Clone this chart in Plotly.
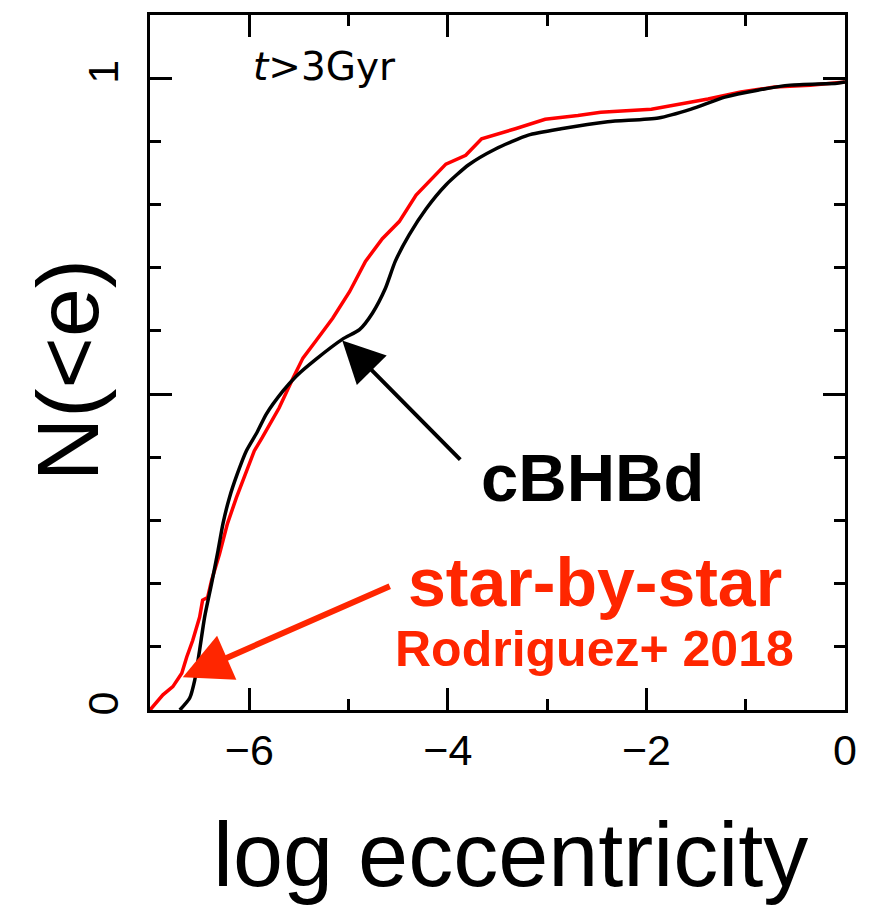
import plotly.graph_objects as go

# Cumulative eccentricity distributions, t > 3 Gyr
cbhbd_log_e = [-6.70, -6.60, -6.55, -6.50, -6.45, -6.38, -6.315, -6.265, -6.20, -6.12,
               -6.03, -5.92, -5.83, -5.66, -5.53, -5.33, -5.06, -4.89, -4.76, -4.63,
               -4.53, -4.39, -4.22, -4.02, -3.79, -3.52, -3.19, -2.86, -2.39, -1.88,
               -1.55, -1.21, -0.88, -0.55, -0.08, 0.0]
cbhbd_frac = [0.0, 0.019, 0.047, 0.095, 0.147, 0.20, 0.252, 0.295, 0.336, 0.374,
              0.41, 0.44, 0.468, 0.505, 0.528, 0.555, 0.587, 0.602, 0.628, 0.667,
              0.71, 0.752, 0.793, 0.831, 0.863, 0.888, 0.910, 0.920, 0.931, 0.937,
              0.951, 0.970, 0.981, 0.989, 0.992, 0.994]

sbs_log_e = [-7.0, -6.87, -6.77, -6.68, -6.63, -6.57, -6.50, -6.47, -6.42, -6.38,
             -6.30, -6.22, -6.13, -6.03, -5.95, -5.87, -5.70, -5.56, -5.46, -5.33,
             -5.16, -4.99, -4.83, -4.66, -4.49, -4.32, -4.18, -4.02, -3.82, -3.66,
             -3.32, -3.02, -2.69, -2.46, -1.95, -1.38, -1.05, -0.71, -0.35, 0.0]
sbs_frac = [0.0, 0.024, 0.037, 0.058, 0.084, 0.11, 0.147, 0.174, 0.178, 0.205,
            0.247, 0.295, 0.336, 0.378, 0.41, 0.431, 0.478, 0.525, 0.557, 0.584,
            0.62, 0.662, 0.71, 0.746, 0.773, 0.815, 0.838, 0.864, 0.878, 0.904,
            0.92, 0.935, 0.941, 0.946, 0.951, 0.967, 0.978, 0.986, 0.989, 0.994]

x_tick_vals = [-6, -4, -2, 0]
y_tick_vals = [0, 0.5, 1]
y_tick_text = ["0", "", "1"]

BLACK = "#000000"
RED_LINE = "#ff0000"
RED_TEXT = "#ff2600"
FONT = "Liberation Sans, Arial, sans-serif"

fig = go.Figure()
fig.add_trace(go.Scatter(x=sbs_log_e, y=sbs_frac, mode="lines",
                         line=dict(color=RED_LINE, width=3.5), showlegend=False))
fig.add_trace(go.Scatter(x=cbhbd_log_e, y=cbhbd_frac, mode="lines",
                         line=dict(color=BLACK, width=3.5, shape="spline", smoothing=0.6),
                         showlegend=False))

axis_common = dict(showline=True, linecolor=BLACK, linewidth=3, mirror="allticks",
                   ticks="inside", ticklen=22, tickwidth=3, tickcolor=BLACK,
                   showgrid=False, zeroline=False,
                   tickfont=dict(family=FONT, size=43, color=BLACK))

fig.update_xaxes(range=[-7, 0], tickvals=x_tick_vals,
                 minor=dict(dtick=1, tick0=0, ticks="inside", ticklen=11,
                            tickwidth=3, tickcolor=BLACK, showgrid=False),
                 **axis_common)
fig.update_yaxes(range=[0, 1.1], tickvals=y_tick_vals, ticktext=y_tick_text,
                 tickangle=-90, ticklabelstandoff=12,
                 minor=dict(dtick=0.1, tick0=0, ticks="inside", ticklen=11,
                            tickwidth=3, tickcolor=BLACK, showgrid=False),
                 **axis_common)

annotations = [
    # panel label
    dict(x=-5.245, y=1.018, xref="x", yref="y", text="<i>t</i>&gt;3Gyr", showarrow=False,
         xanchor="center", yanchor="middle",
         font=dict(family="DejaVu Sans", size=39, color=BLACK)),
    # arrows
    dict(x=-5.064, y=0.585, ax=-3.86, ay=0.394, xref="x", yref="y", axref="x", ayref="y",
         text="", showarrow=True, arrowhead=2, arrowsize=2.1, arrowwidth=4,
         arrowcolor=BLACK),
    dict(x=-6.67, y=0.052, ax=-4.57, ay=0.197, xref="x", yref="y", axref="x", ayref="y",
         text="", showarrow=True, arrowhead=2, arrowsize=1.6, arrowwidth=6,
         arrowcolor=RED_TEXT),
    # labels
    dict(x=-2.54, y=0.368, xref="x", yref="y", text="<b>cBHBd</b>", showarrow=False,
         xanchor="center", yanchor="middle",
         font=dict(family=FONT, size=67, color=BLACK)),
    dict(x=-2.52, y=0.202, xref="x", yref="y", text="<b>star-by-star</b>", showarrow=False,
         xanchor="center", yanchor="middle",
         font=dict(family=FONT, size=68, color=RED_TEXT)),
    dict(x=-2.52, y=0.097, xref="x", yref="y", text="<b>Rodriguez+ 2018</b>", showarrow=False,
         xanchor="center", yanchor="middle",
         font=dict(family=FONT, size=50, color=RED_TEXT)),
    # axis titles (pixel placement, converted below)
    dict(x=512, y=908, xref="paper", yref="paper", text="log eccentricity", showarrow=False,
         xanchor="center", yanchor="bottom",
         font=dict(family=FONT, size=90, color=BLACK)),
    dict(x=68, y=369, xref="paper", yref="paper", text="N(&lt;e)", showarrow=False,
         xanchor="center", yanchor="middle", textangle=-90,
         font=dict(family=FONT, size=88, color=BLACK)),
]

# convert pixel placements of the titles into paper coordinates
W, H = 869, 909
L, R, T, B = 150, 21, 13, 199
pw, ph = W - L - R, H - T - B
for a in annotations:
    if a.get("xref") == "paper":
        a["x"] = (a["x"] - L) / pw
        a["y"] = (H - B - a["y"]) / ph

fig.update_layout(width=W, height=H, margin=dict(l=L, r=R, t=T, b=B),
                  plot_bgcolor="white", paper_bgcolor="white",
                  annotations=annotations)

fig.write_html("out.html")
